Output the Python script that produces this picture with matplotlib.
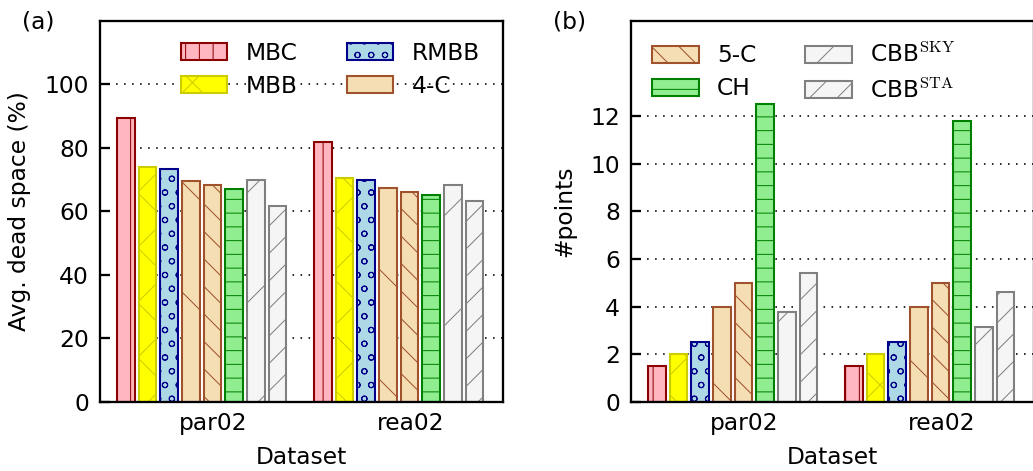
import numpy as np
import matplotlib.pyplot as plt

# high dpi so the hatch spacing matches the original rendering
DPI = 330
plt.rcParams['font.size'] = 5.1
plt.rcParams['mathtext.fontset'] = 'cm'
plt.rcParams['hatch.linewidth'] = 0.22
plt.rcParams['lines.scale_dashes'] = False

datasets = ['par02', 'rea02']
methods = ['MBC', 'MBB', 'RMBB', '4-C', '5-C', 'CH',
           r'CBB$^{\mathrm{SKY}}$', r'CBB$^{\mathrm{STA}}$']

# avg. dead space (%)
dead_par02 = [89.3, 73.9, 73.5, 69.5, 68.3, 67.2, 69.8, 61.8]
dead_rea02 = [81.9, 70.6, 70.0, 67.5, 66.1, 65.2, 68.3, 63.4]

# number of points
pts_par02 = [1.5, 2.0, 2.5, 4.0, 5.0, 12.5, 3.75, 5.4]
pts_rea02 = [1.5, 2.0, 2.5, 4.0, 5.0, 11.8, 3.15, 4.6]

face = ['lightpink', 'yellow', 'lightblue', 'wheat', 'wheat',
        'lightgreen', 'whitesmoke', 'whitesmoke']
edge = ['darkred', '#cccc00', 'darkblue', 'sienna', 'sienna',
        'green', 'gray', 'gray']
hatch = ['||||', 'xx', 'oooo', '\\', '\\\\\\\\', '----', '/', '////']

fig = plt.figure(figsize=(1033 / DPI, 471 / DPI), dpi=DPI)
ax1 = fig.add_axes([100 / 1033, 69.3 / 471, 403 / 1033, 380.7 / 471])
ax2 = fig.add_axes([631 / 1033, 69.3 / 471, 403 / 1033, 380.7 / 471])

ind = np.arange(len(datasets))
step = 0.11
width = 0.09


def draw(ax, vals_a, vals_b, ymax, yticks, ylabel, leg_idx, leg_x):
    handles = []
    for i in range(len(methods)):
        b = ax.bar(ind + i * step, [vals_a[i], vals_b[i]], width, align='edge',
                   color=face[i], edgecolor=edge[i], hatch=hatch[i],
                   linewidth=0.45, label=methods[i])
        handles.append(b)
    ax.set_xlim(-0.086, 1.96)
    ax.set_ylim(0, ymax)
    ax.set_yticks(yticks)
    ax.set_xticks(ind + 0.49)
    ax.set_xticklabels(datasets)
    ax.tick_params(axis='y', direction='in', length=2.2, width=0.5, pad=2.4)
    ax.tick_params(axis='x', length=0, pad=2.2)
    for s in ax.spines.values():
        s.set_linewidth(0.5)
    ax.yaxis.grid(True, linestyle=(0, (0.35, 1.4)), color='black', linewidth=0.35)
    ax.set_axisbelow(True)
    ax.set_xlabel('Dataset', labelpad=2.5)
    ax.set_ylabel(ylabel, labelpad=3)
    ax.legend([handles[j] for j in leg_idx], [methods[j] for j in leg_idx],
              ncol=2, frameon=False, loc='upper left',
              bbox_to_anchor=(leg_x, 0.945),
              borderpad=0, borderaxespad=0, handlelength=2.0,
              handleheight=0.75, handletextpad=0.78, columnspacing=2.1,
              labelspacing=0.42)


draw(ax1, dead_par02, dead_rea02, 120, range(0, 101, 20),
     'Avg. dead space (%)', [0, 1, 2, 3], 0.2)
draw(ax2, pts_par02, pts_rea02, 16, range(0, 13, 2),
     '#points', [4, 5, 6, 7], 0.052)

fig.text(38.5 / 1033, 1 - 22 / 471, '(a)', ha='center', va='center')
fig.text(570 / 1033, 1 - 22 / 471, '(b)', ha='center', va='center')

fig.savefig('out.png', dpi=DPI)
